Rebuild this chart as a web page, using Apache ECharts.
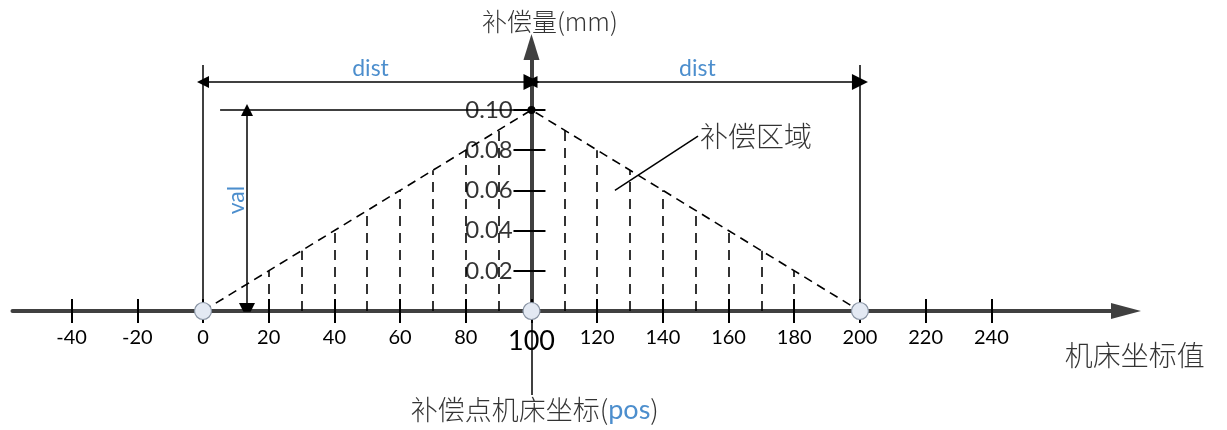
<!DOCTYPE html>
<html>
<head>
<meta charset="utf-8">
<script src="https://cdn.jsdelivr.net/npm/echarts@6.0.0/dist/echarts.min.js"></script>
<style>
  html, body { margin: 0; background: #fff; }
  #chart { width: 1227px; height: 430px; }
</style>
</head>
<body>
<div id="chart"></div>
<script>
// 座標軸刻度
const xTicks = [-40, -20, 0, 20, 40, 60, 80, 100, 120, 140, 160, 180, 200, 220, 240]
const yTicks = [0.02, 0.04, 0.06, 0.08, 0.10]
const yTickLabels = ['0.02', '0.04', '0.06', '0.08', '0.10']

// 補償三角形
const triangleX = [0, 100, 200]
const triangleY = [0, 0.10, 0]

// 補償區域的虛線
const leftHatchX = [20, 30, 40, 50, 60, 70, 80, 90]
const leftHatchTop = [0.02, 0.03, 0.04, 0.05, 0.06, 0.07, 0.08, 0.09]
const rightHatchX = [110, 120, 130, 140, 150, 160, 170, 180]
const rightHatchTop = [0.09, 0.08, 0.07, 0.06, 0.05, 0.04, 0.03, 0.02]

// 標記點
const markerX = [0, 100, 200]
const peakPoint = [100, 0.10]

// 標註文字
const labelTexts = ['补偿量(mm)', 'dist', 'dist', 'val', '补偿区域', '机床坐标值']
const labelX = [105.6, 51, 150.5, 10.3, 151.3, 283.7]
const labelY = [0.1438, 0.1205, 0.1205, 0.0552, 0.087, -0.0219]

const FONT = 'Lato, "Noto Sans", sans-serif'
const CJK = '"Noto Sans CJK SC", sans-serif'
const BLUE = '#1f72c0'
const AXIS = '#404040'

const chart = echarts.init(document.getElementById('chart'))

const seg = (a, b) => ({ coords: [a, b] })

const hatchData = [
  ...leftHatchX.map((x, i) => seg([x, 0], [x, leftHatchTop[i]])),
  ...rightHatchX.map((x, i) => seg([x, 0], [x, rightHatchTop[i]]))
]

const plainLines = [
  seg([0, 0], [0, 0.1224]),
  seg([200, 0], [200, 0.1224]),
  seg([5.2, 0.10], [103.6, 0.10]),
  seg([125.4, 0.060], [150.7, 0.087])
]

const arrowLines = [
  seg([0, 0.1139], [100, 0.1139]),
  seg([100, 0.1139], [200, 0.1139]),
  seg([13.4, 0.10], [13.4, 0])
]

const textStyleFor = (t) => {
  if (t === 'dist' || t === 'val') return { fontFamily: FONT, fontSize: 23, color: BLUE }
  if (t === '补偿量(mm)') return { fontFamily: CJK, fontSize: 25, color: '#000', fontWeight: 300 }
  return { fontFamily: CJK, fontSize: 28, color: '#000', fontWeight: 300 }
}

const textData = labelTexts.map((t, i) => ({
  value: [labelX[i], labelY[i]],
  label: {
    show: true,
    formatter: t,
    position: t === '补偿区域' ? 'right' : 'inside',
    distance: 0,
    rotate: t === 'val' ? 90 : 0,
    ...textStyleFor(t)
  }
}))

textData.push({
  value: [101, -0.0493],
  label: {
    show: true,
    position: 'inside',
    formatter: '{cn|补偿点机床坐标(}{blue|pos}{cn|)}',
    rich: {
      cn: { fontFamily: CJK, fontSize: 27, color: '#000', fontWeight: 300 },
      blue: { fontFamily: FONT, fontSize: 27, color: BLUE }
    }
  }
})

// 縱軸刻度文字（ECharts 6 的 onZero 不會移動標籤，改在 x=100 左側畫）
yTicks.forEach((v, i) => {
  textData.push({
    value: [94.3, v],
    label: {
      show: true,
      position: 'left',
      distance: 0,
      formatter: yTickLabels[i],
      fontFamily: FONT,
      fontSize: 24,
      color: '#000'
    }
  })
})

const option = {
  backgroundColor: '#fff',
  animation: false,
  grid: { left: 12.5, right: 101, top: 47, bottom: 119, containLabel: false, outerBoundsMode: 'none' },
  xAxis: [
    {
      type: 'value', position: 'bottom', min: -58, max: 281,
      axisLine: {
        onZero: true,
        lineStyle: { color: AXIS, width: 4 },
        symbol: ['none', 'triangle'],
        symbolSize: [16, 30]
      },
      axisTick: { customValues: xTicks, length: 12, lineStyle: { color: '#000', width: 2 } },
      axisLabel: {
        customValues: xTicks,
        margin: 17,
        fontSize: 20,
        fontFamily: FONT,
        color: '#000',
        formatter: v => (v === 100 ? '{big|100}' : String(v)),
        rich: { big: { fontSize: 27, fontFamily: FONT, color: '#000' } }
      },
      splitLine: { show: false }
    },
    {
      type: 'value', position: 'bottom', min: -58, max: 281,
      axisLine: { show: false },
      axisTick: { customValues: xTicks, inside: true, length: 12, lineStyle: { color: '#000', width: 2 } },
      axisLabel: { show: false },
      splitLine: { show: false }
    },
    // 用於把縱軸放在 x=100 的位置
    { type: 'value', position: 'bottom', min: -158, max: 181, show: false }
  ],
  yAxis: [
    {
      type: 'value', position: 'left', min: 0, max: 0.1313,
      axisLine: {
        onZero: true,
        onZeroAxisIndex: 2,
        lineStyle: { color: AXIS, width: 4 },
        symbol: ['none', 'triangle'],
        symbolSize: [16, 26]
      },
      axisTick: { customValues: yTicks, length: 18, lineStyle: { color: '#000', width: 2 } },
      axisLabel: { show: false },
      splitLine: { show: false }
    },
    {
      type: 'value', position: 'left', min: 0, max: 0.1313,
      axisLine: { show: false, onZero: true, onZeroAxisIndex: 2 },
      axisTick: { customValues: yTicks, inside: true, length: 14, lineStyle: { color: '#000', width: 2 } },
      axisLabel: { show: false },
      splitLine: { show: false }
    }
  ],
  series: [
    {
      type: 'line',
      data: triangleX.map((x, i) => [x, triangleY[i]]),
      symbol: 'none',
      lineStyle: { color: '#000', width: 1.6, type: [9, 6] },
      z: 3
    },
    {
      type: 'lines',
      coordinateSystem: 'cartesian2d',
      data: hatchData,
      lineStyle: { color: '#000', width: 1.6, type: [10, 7], opacity: 1 },
      z: 3
    },
    {
      type: 'lines',
      coordinateSystem: 'cartesian2d',
      data: plainLines,
      lineStyle: { color: '#000', width: 1.5, opacity: 1 },
      z: 3
    },
    {
      type: 'lines',
      coordinateSystem: 'cartesian2d',
      data: arrowLines,
      symbol: ['triangle', 'triangle'],
      symbolSize: [12, 16],
      lineStyle: { color: '#000', width: 1.5, opacity: 1 },
      z: 3
    },
    {
      type: 'lines',
      coordinateSystem: 'cartesian2d',
      clip: false,
      data: [seg([100, 0], [100, -0.0418])],
      lineStyle: { color: '#000', width: 1.5, opacity: 1 },
      z: 3
    },
    {
      type: 'scatter',
      data: markerX.map(x => [x, 0]),
      symbolSize: 17,
      itemStyle: { color: '#e3e9f3', borderColor: '#8792a2', borderWidth: 1.2, opacity: 1 },
      z: 5
    },
    {
      type: 'scatter',
      data: [peakPoint],
      symbolSize: 8,
      itemStyle: { color: '#000', opacity: 1 },
      z: 5
    },
    {
      type: 'scatter',
      clip: false,
      data: textData,
      symbolSize: 0,
      silent: true,
      z: 6
    }
  ]
}

chart.setOption(option)
</script>
</body>
</html>
